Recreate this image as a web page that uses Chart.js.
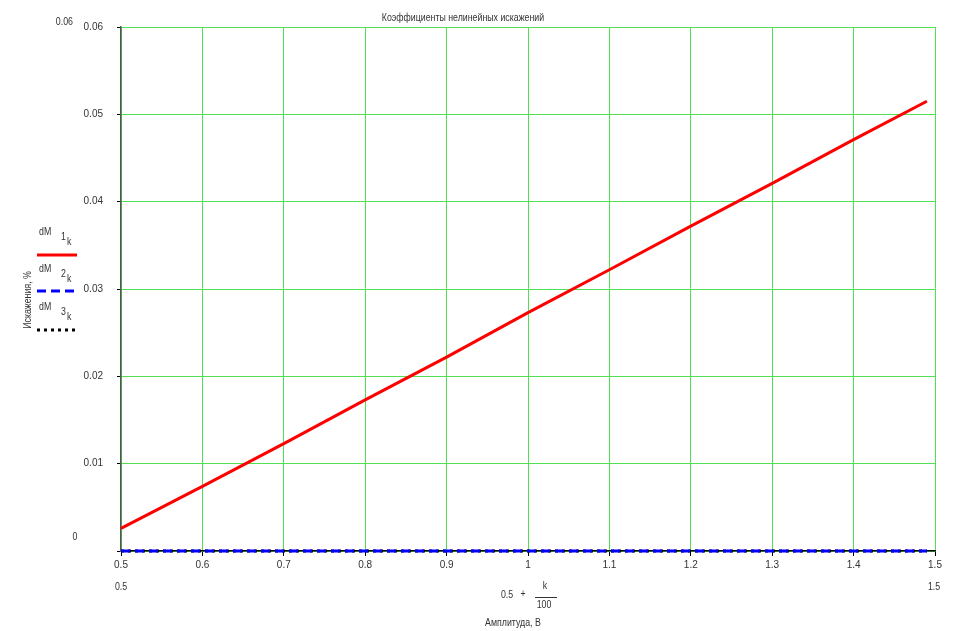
<!DOCTYPE html>
<html>
<head>
<meta charset="utf-8">
<script src="https://cdn.jsdelivr.net/npm/chart.js@4/dist/chart.umd.min.js"></script>
<style>
html,body{margin:0;padding:0;background:#fff;}
#wrap{width:968px;height:631px;}
</style>
</head>
<body>
<div id="wrap"><canvas id="c" width="968" height="631"></canvas></div>
<script>
// ---- data ----
const amplitude = [0.5, 0.6, 0.7, 0.8, 0.9, 1.0, 1.1, 1.2, 1.3, 1.4, 1.49];
const dM1 = [0.0026, 0.0074, 0.0123, 0.0173, 0.0222, 0.0273, 0.0322, 0.0372, 0.0421, 0.0471, 0.0515];
const dM2 = [0, 0, 0, 0, 0, 0, 0, 0, 0, 0, 0];
const dM3 = [0, 0, 0, 0, 0, 0, 0, 0, 0, 0, 0];
const xTicks = [0.5, 0.6, 0.7, 0.8, 0.9, 1, 1.1, 1.2, 1.3, 1.4, 1.5];
const yTicks = [0, 0.01, 0.02, 0.03, 0.04, 0.05, 0.06];
const titleText = 'Коэффициенты нелинейных искажений';
const yTitle = 'Искажения, %';
const xTitle = 'Амплитуда, В';
const seriesNames = ['dM', 'dM', 'dM'];
const seriesSubs = ['1', '2', '3'];

const FONT = '"Liberation Sans", Arial, sans-serif';
const GREEN = '#52e052';
const TXT = '#333';
const SX = 0.8;

function pts(ys){ return amplitude.map((x,i)=>({x:x, y:ys[i]})); }

function txt(ctx, t, x, y, align){
  ctx.save();
  ctx.translate(x, y);
  ctx.scale(SX, 1);
  ctx.textAlign = align || 'center';
  ctx.fillText(t, 0, 0);
  ctx.restore();
}

const extras = {
  id: 'extras',
  afterDraw(chart){
    const ctx = chart.ctx;
    ctx.save();
    ctx.fillStyle = TXT;
    ctx.font = '11px ' + FONT;
    ctx.textBaseline = 'middle';
    // title
    txt(ctx, titleText, 463, 18);
    // limit labels
    txt(ctx, String(yTicks[yTicks.length-1]), 73, 22, 'right');
    txt(ctx, String(yTicks[0]), 75, 537);
    txt(ctx, String(xTicks[0]), chart.scales.x.getPixelForValue(xTicks[0]), 587);
    txt(ctx, String(xTicks[xTicks.length-1]), chart.scales.x.getPixelForValue(xTicks[xTicks.length-1]) - 1, 587);
    // x expression
    txt(ctx, '0.5', 507, 595);
    txt(ctx, '+', 523, 594);
    txt(ctx, 'k', 545, 586);
    txt(ctx, '100', 544, 605);
    ctx.strokeStyle = '#333';
    ctx.lineWidth = 1;
    ctx.beginPath(); ctx.moveTo(535, 597.5); ctx.lineTo(557, 597.5); ctx.stroke();
    txt(ctx, xTitle, 513, 623);
    // y title
    ctx.save();
    ctx.translate(28, 300);
    ctx.rotate(-Math.PI/2);
    txt(ctx, yTitle, 0, 0);
    ctx.restore();
    // legend
    const ds = chart.data.datasets;
    const rows = [[232, 255], [269, 291], [307, 330]];
    rows.forEach((r, i) => {
      ctx.fillStyle = TXT;
      txt(ctx, seriesNames[i], 39, r[0], 'left');
      txt(ctx, seriesSubs[i], 61, r[0] + 5, 'left');
      txt(ctx, 'k', 67, r[0] + 10, 'left');
      ctx.strokeStyle = ds[i].borderColor;
      ctx.lineWidth = 3;
      ctx.setLineDash(ds[i].borderDash || []);
      ctx.beginPath(); ctx.moveTo(37, r[1]); ctx.lineTo(77, r[1]); ctx.stroke();
      ctx.setLineDash([]);
    });
    ctx.restore();
  }
};

new Chart(document.getElementById('c'), {
  type: 'line',
  data: {
    datasets: [
      { label: 'dM1k', data: pts(dM1), borderColor: '#ff0000', borderWidth: 3, pointRadius: 0, tension: 0, fill: false, clip: 6 },
      { label: 'dM2k', data: pts(dM2), borderColor: '#0000ff', borderWidth: 3, borderDash: [9, 5], pointRadius: 0, tension: 0, fill: false, clip: 6 },
      { label: 'dM3k', data: pts(dM3), borderColor: '#000000', borderWidth: 3, borderDash: [3, 4], pointRadius: 0, tension: 0, fill: false, clip: 6 }
    ]
  },
  options: {
    responsive: false,
    animation: false,
    layout: { padding: { top: 27, right: 33, left: 0, bottom: 0 } },
    plugins: { legend: { display: false }, title: { display: false }, tooltip: { enabled: false } },
    scales: {
      x: {
        type: 'linear', min: 0.5, max: 1.5,
        afterFit(s){ s.height = 80; },
        afterBuildTicks(s){ s.ticks = xTicks.map(v => ({value: v})); },
        ticks: { color: TXT, font: { family: FONT, size: 10 }, padding: 3, maxRotation: 0, autoSkip: false,
          callback: v => String(Number(v.toFixed(1))) },
        grid: { color: GREEN, lineWidth: 1, tickColor: '#000', tickLength: 5 },
        border: { color: '#000', width: 1.5 }
      },
      y: {
        type: 'linear', min: 0, max: 0.06,
        afterFit(s){ s.width = 121; },
        afterBuildTicks(s){ s.ticks = yTicks.map(v => ({value: v})); },
        ticks: { color: TXT, font: { family: FONT, size: 10 }, padding: 14, autoSkip: false,
          callback: v => v === 0 ? '' : v.toFixed(2) },
        grid: { color: GREEN, lineWidth: 1, tickColor: '#000', tickLength: 4 },
        border: { color: '#555', width: 1.5 }
      }
    }
  },
  plugins: [extras]
});
</script>
</body>
</html>
